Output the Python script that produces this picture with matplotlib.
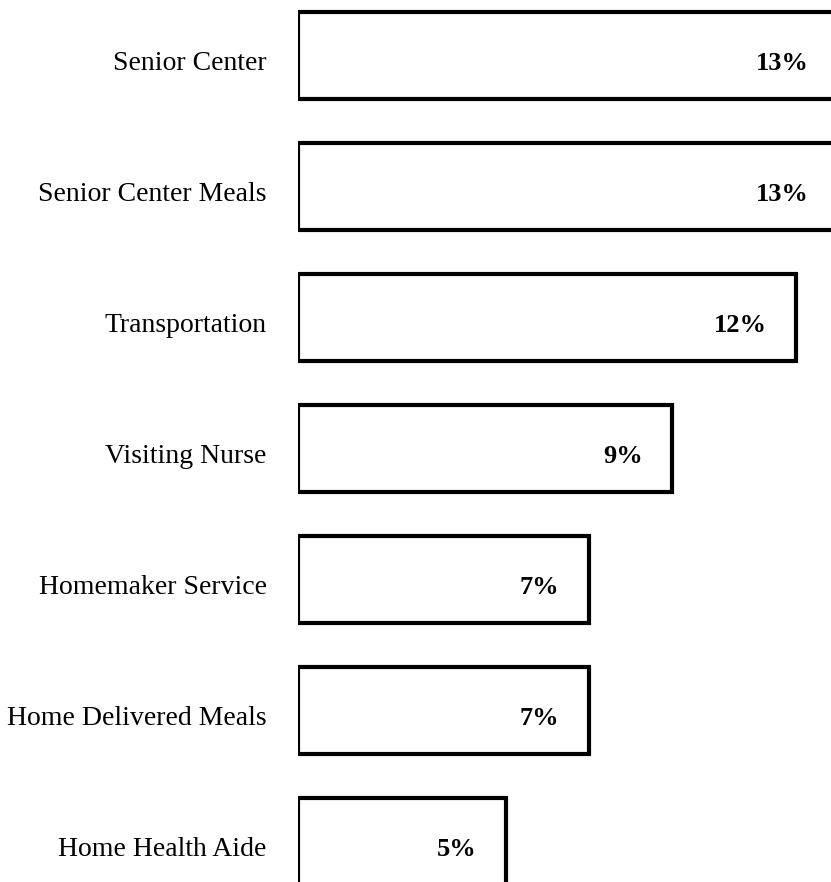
import matplotlib.pyplot as plt
import numpy as np

services = ["Senior Center", "Senior Center Meals", "Transportation", "Visiting Nurse",
            "Homemaker Service", "Home Delivered Meals", "Home Health Aide"]
pct = [13, 13, 12, 9, 7, 7, 5]
pct_labels = ["13%", "13%", "12%", "9%", "7%", "7%", "5%"]

fig = plt.figure(figsize=(8.31, 8.82), dpi=100)
ax = fig.add_axes([298 / 831, 0, 1 - 298 / 831, 1])

pos = np.arange(len(services))
ax.barh(pos, pct, height=0.67, left=0, color="white", edgecolor="black", linewidth=3)

for i in range(len(services)):
    ax.text(-0.75, pos[i] + 0.06, services[i], ha="right", va="center",
            fontsize=20, family="Liberation Serif", clip_on=False)
    ax.text(pct[i] - 0.7, pos[i] + 0.06, pct_labels[i], ha="right", va="center",
            fontsize=19, fontweight="heavy", family="Liberation Serif")

ax.set_xlim(0, 12.84)
ax.set_ylim(6.31, -0.424)
ax.axis("off")

fig.savefig("out.png", dpi=100)
